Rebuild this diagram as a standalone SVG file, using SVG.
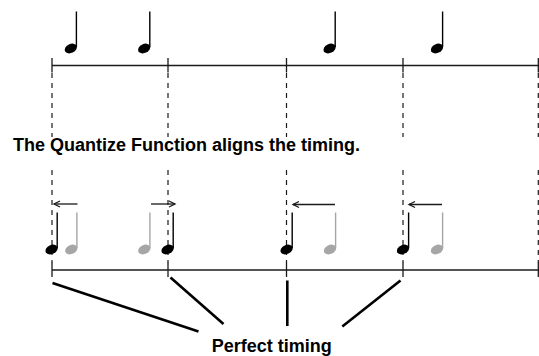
<svg xmlns="http://www.w3.org/2000/svg" width="539" height="356" viewBox="0 0 539 356">
<style>
.staff{stroke:#1a1a1a;stroke-width:1.5;fill:none}
.tick{stroke:#1a1a1a;stroke-width:1.3}
.dash{stroke:#1a1a1a;stroke-width:1.2;stroke-dasharray:5 5;fill:none}
.arrow{stroke:#1a1a1a;stroke-width:1.3;fill:none;marker-end:url(#ah)}
.call{stroke:#000;stroke-width:2.6;fill:none}
.lbl{font-family:"Liberation Sans",Arial,sans-serif;font-weight:bold;font-size:18px;fill:#000}
.blk{color:#000}
.gry{color:#a6a6a6}
</style>
<defs>
<g id="note">
<line x1="5.6" y1="-1.5" x2="5.6" y2="-37" stroke="currentColor" stroke-width="1.4"/>
<ellipse cx="0" cy="0" rx="6.4" ry="4.5" transform="rotate(-25)" fill="currentColor"/>
</g>
<marker id="ah" markerWidth="10" markerHeight="10" refX="7" refY="4" orient="auto" markerUnits="userSpaceOnUse">
<path d="M1,1 L7,4 L1,7" fill="none" stroke="#1a1a1a" stroke-width="1.3"/>
</marker>
</defs>

<g id="top-staff">
<line class="staff" x1="52" y1="65.5" x2="539" y2="65.5"/>
<line class="tick" x1="52" y1="58" x2="52" y2="72.5"/>
<line class="tick" x1="168" y1="58" x2="168" y2="72.5"/>
<line class="tick" x1="286.5" y1="58" x2="286.5" y2="72.5"/>
<line class="tick" x1="403" y1="58" x2="403" y2="72.5"/>
<line class="tick" x1="538.3" y1="58" x2="538.3" y2="72.5"/>
</g>

<g id="top-notes" class="blk">
<use href="#note" x="70.8" y="48.5"/>
<use href="#note" x="144.2" y="48.5"/>
<use href="#note" x="329.6" y="48.5"/>
<use href="#note" x="437" y="48.5"/>
</g>

<g id="guides">
<path class="dash" d="M52,73 V137 M52,170 V263"/>
<path class="dash" d="M168,73 V137 M168,170 V263"/>
<path class="dash" d="M286.5,73 V137 M286.5,170 V263"/>
<path class="dash" d="M403,73 V137 M403,170 V263"/>
<path class="dash" d="M538.3,73 V137 M538.3,170 V263"/>
</g>

<text class="lbl" x="13" y="151">The Quantize Function aligns the timing.</text>

<g id="bottom-notes">
<g class="gry">
<use href="#note" x="71.3" y="249.5"/>
<use href="#note" x="144.3" y="249.5"/>
<use href="#note" x="330" y="249.5"/>
<use href="#note" x="437" y="249.5"/>
</g>
<g class="blk">
<use href="#note" x="51.6" y="249.5"/>
<use href="#note" x="167.6" y="249.5"/>
<use href="#note" x="286.6" y="249.5"/>
<use href="#note" x="403" y="249.5"/>
</g>
</g>

<g id="shift-arrows">
<line class="arrow" x1="77.5" y1="204" x2="54" y2="204"/>
<line class="arrow" x1="151" y1="204" x2="175" y2="204"/>
<line class="arrow" x1="335" y1="204.5" x2="293" y2="204.5"/>
<line class="arrow" x1="442" y1="204.5" x2="409" y2="204.5"/>
</g>

<g id="bottom-staff">
<line class="staff" x1="52" y1="270" x2="539" y2="270"/>
<line class="tick" x1="52" y1="262.5" x2="52" y2="277"/>
<line class="tick" x1="168" y1="262.5" x2="168" y2="277"/>
<line class="tick" x1="286.5" y1="262.5" x2="286.5" y2="277"/>
<line class="tick" x1="403" y1="262.5" x2="403" y2="277"/>
<line class="tick" x1="538.3" y1="262.5" x2="538.3" y2="277"/>
</g>

<g id="connectors">
<line class="call" x1="52.5" y1="283" x2="198.5" y2="331.5"/>
<line class="call" x1="170.5" y1="277.5" x2="223.5" y2="324"/>
<line class="call" x1="287.3" y1="280.5" x2="287.3" y2="326"/>
<line class="call" x1="400.5" y1="280.5" x2="342.3" y2="326.5"/>
</g>

<g id="perfect-timing">
<text class="lbl" x="271.7" y="351.5" text-anchor="middle">Perfect timing</text>
</g>
</svg>
